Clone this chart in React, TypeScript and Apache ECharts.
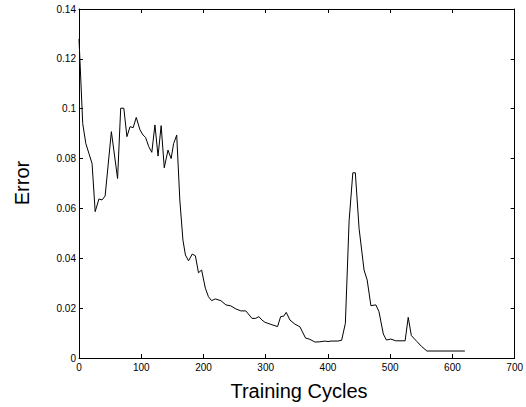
import React, { useEffect, useRef } from "react";
import * as echarts from "echarts";

const cycles = [0, 6, 11, 16, 21, 26, 32, 37, 42, 52, 62, 67, 72, 77, 82, 87, 92, 98, 103, 107, 112, 117, 122, 127, 132, 137, 143, 148, 152, 157, 162, 167, 171, 176, 182, 187, 192, 197, 203, 208, 213, 219, 228, 236, 244, 252, 260, 268, 278, 284, 289, 294, 299, 307, 319, 324, 329, 333, 339, 347, 355, 364, 371, 379, 387, 395, 400, 405, 416, 422, 428, 434, 440, 444, 450, 458, 463, 469, 477, 482, 489, 494, 501, 509, 524, 529, 534, 543, 551, 559, 620];
const errors = [0.128, 0.094, 0.086, 0.082, 0.078, 0.0587, 0.0638, 0.0634, 0.065, 0.0908, 0.072, 0.1002, 0.1002, 0.0888, 0.0928, 0.0924, 0.0965, 0.0915, 0.0894, 0.0885, 0.0848, 0.0825, 0.0935, 0.081, 0.0932, 0.0763, 0.0834, 0.08, 0.086, 0.0894, 0.0634, 0.0473, 0.0413, 0.039, 0.0417, 0.041, 0.0342, 0.0353, 0.028, 0.0246, 0.023, 0.0237, 0.023, 0.0213, 0.0209, 0.0197, 0.0189, 0.0189, 0.0159, 0.0159, 0.0166, 0.0152, 0.0143, 0.0136, 0.0126, 0.0166, 0.0168, 0.0183, 0.0152, 0.0136, 0.0125, 0.008, 0.0075, 0.0064, 0.0065, 0.0068, 0.0066, 0.0068, 0.0068, 0.0071, 0.0139, 0.055, 0.0743, 0.0743, 0.052, 0.0353, 0.0313, 0.021, 0.0213, 0.0186, 0.0096, 0.0072, 0.0076, 0.0069, 0.0069, 0.0163, 0.009, 0.0066, 0.0045, 0.0028, 0.0028];

const xLabel = "Training Cycles";
const yLabel = "Error";

export default function App() {
  const ref = useRef<HTMLDivElement>(null);
  useEffect(() => {
    if (!ref.current) return;
    const chart = echarts.init(ref.current, null, { renderer: "svg" });
    const font = "Liberation Sans, Arial, Helvetica, sans-serif";
    const axisLine = { show: true, onZero: false, lineStyle: { color: "#000", width: 1 } };
    const tick = { show: true, inside: true, length: 4, lineStyle: { color: "#000" } };
    const label = { color: "#000", fontSize: 10, fontFamily: font };
    chart.setOption({
      animation: false,
      backgroundColor: "#fff",
      grid: { left: 79, right: 7, top: 9, bottom: 49, containLabel: false },
      xAxis: [
        {
          type: "value", min: 0, max: 700, interval: 100, position: "bottom",
          axisLine, axisTick: tick, splitLine: { show: false },
          axisLabel: { ...label, margin: 4 },
        },
        {
          type: "value", min: 0, max: 700, interval: 100, position: "top",
          axisLine, axisTick: tick, splitLine: { show: false },
          axisLabel: { show: false },
        },
      ],
      yAxis: [
        {
          type: "value", min: 0, max: 0.14, interval: 0.02, position: "left",
          axisLine, axisTick: tick, splitLine: { show: false },
          axisLabel: { ...label, margin: 3 },
        },
        {
          type: "value", min: 0, max: 0.14, interval: 0.02, position: "right",
          axisLine, axisTick: tick, splitLine: { show: false },
          axisLabel: { show: false },
        },
      ],
      graphic: [
        {
          type: "text", x: 299, y: 391,
          style: { text: xLabel, fill: "#000", fontSize: 20, fontFamily: font, align: "center", verticalAlign: "middle" },
        },
        {
          type: "text", x: 22, y: 183, rotation: Math.PI / 2,
          style: { text: yLabel, fill: "#000", fontSize: 20, fontFamily: font, align: "center", verticalAlign: "middle" },
        },
      ],
      series: [
        {
          type: "line",
          data: cycles.map((c, i) => [c, errors[i]]),
          showSymbol: false,
          symbol: "none",
          lineStyle: { color: "#000", width: 1 },
        },
      ],
    });
    return () => chart.dispose();
  }, []);
  return <div ref={ref} style={{ width: 526, height: 407, position: "absolute", left: 0, top: 0 }} />;
}
